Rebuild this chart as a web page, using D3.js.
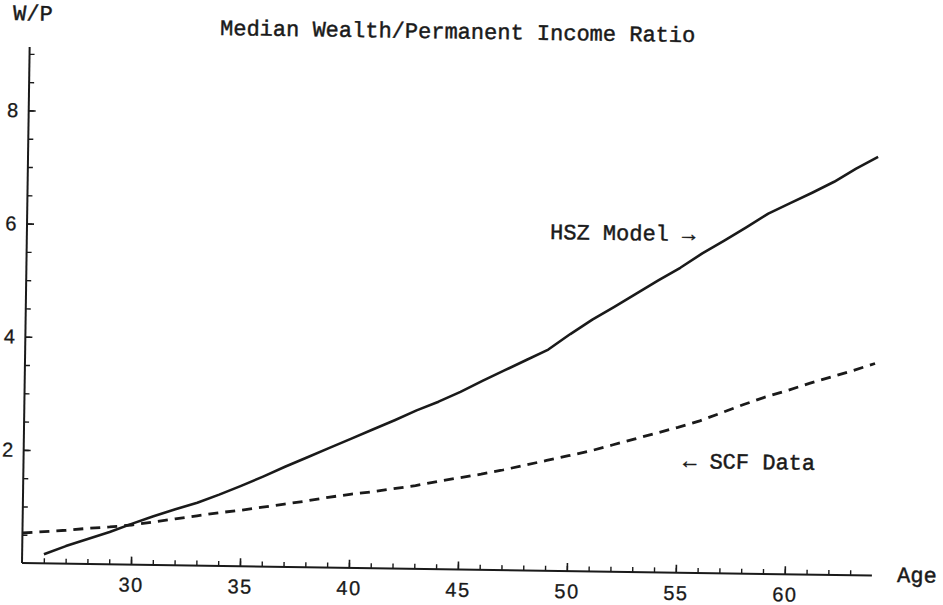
<!DOCTYPE html>
<html>
<head>
<meta charset="utf-8">
<script src="https://cdn.jsdelivr.net/npm/d3@7"></script>
<style>
  body { margin: 0; background: #fff; }
  .mono { font-family: "Liberation Mono", "Courier New", monospace; font-size: 22px; fill: #1a1a1a; stroke: #1a1a1a; stroke-width: 0.45px; }
  .tick text { font-family: "Liberation Sans", Arial, sans-serif; font-size: 20px; letter-spacing: 1.5px; fill: #1a1a1a; stroke: #1a1a1a; stroke-width: 0.3px; }
</style>
</head>
<body>
<svg id="chart" width="943" height="605"></svg>
<script>
// HSZ model, median W/P by age
var hszAges = [26,27,28,29,30,31,32,33,34,35,36,37,38,39,40,41,42,43,44,45,
               46,47,48,49,50,51,52,53,54,55,56,57,58,59,60,61,62,63,64];
var hszValues = [0.16,0.31,0.44,0.57,0.72,0.86,0.99,1.11,1.26,1.42,1.59,1.77,1.94,2.11,2.28,2.45,2.62,2.80,2.96,3.14,
                 3.34,3.53,3.72,3.91,4.19,4.45,4.68,4.92,5.16,5.39,5.65,5.88,6.12,6.37,6.56,6.75,6.95,7.19,7.40];

// SCF data
var scfAges = [25,26,27,28,29,30,31,32,33,34,35,36,37,38,39,40,41,42,43,44,45,
               46,47,48,49,50,51,52,53,54,55,56,57,58,59,60,61,62,63,64];
var scfValues = [0.53,0.56,0.59,0.63,0.66,0.70,0.76,0.82,0.88,0.94,0.99,1.05,1.11,1.17,1.24,1.30,1.35,1.41,1.47,1.55,1.62,
                 1.69,1.77,1.86,1.95,2.04,2.13,2.24,2.35,2.46,2.57,2.69,2.84,2.99,3.13,3.25,3.38,3.50,3.62,3.75];

var xTickLabels = [30,35,40,45,50,55,60];
var yTickLabels = [2,4,6,8];

var svg = d3.select("#chart");
var tilt = 0.85; // the scanned original sits slightly rotated

var x = d3.scaleLinear().domain([25, 64]).range([0, 850]);
var y = d3.scaleLinear().domain([0, 9.12]).range([0, -516]);

var g = svg.append("g")
  .attr("transform", "translate(22,563) rotate(" + tilt + ")");

function tidy(w) {
  return function(s) {
    s.select(".domain").remove();
    s.selectAll(".tick line").attr("stroke", "#1a1a1a").attr("stroke-width", w);
  };
}

// x axis: minor every year, major every 5
g.append("g")
  .call(d3.axisBottom(x).tickValues(d3.range(26, 64)).tickSize(-5).tickFormat(""))
  .call(tidy(1.4));
g.append("g")
  .call(d3.axisBottom(x).tickValues(xTickLabels).tickSize(-8).tickPadding(13))
  .call(tidy(1.6));

// y axis: minor every 0.5, major labelled
g.append("g")
  .call(d3.axisLeft(y).tickValues(d3.range(0.5, 9.1, 0.5)).tickSize(-5).tickFormat(""))
  .call(tidy(1.4));
g.append("g")
  .call(d3.axisLeft(y).tickValues(yTickLabels).tickSize(-7).tickPadding(9))
  .call(tidy(1.6));

g.append("line").attr("x1", 0).attr("x2", x(64)).attr("y1", 0).attr("y2", 0)
  .attr("stroke", "#1a1a1a").attr("stroke-width", 2);
g.append("line").attr("x1", 0).attr("x2", 0).attr("y1", 0).attr("y2", y(9.12))
  .attr("stroke", "#1a1a1a").attr("stroke-width", 2);

var line = d3.line()
  .x(function(d){ return x(d[0]); })
  .y(function(d){ return y(d[1]); });

g.append("path")
  .datum(d3.zip(scfAges, scfValues))
  .attr("d", line)
  .attr("fill", "none")
  .attr("stroke", "#1a1a1a")
  .attr("stroke-width", 2.8)
  .attr("stroke-dasharray", "10,7");

g.append("path")
  .datum(d3.zip(hszAges, hszValues))
  .attr("d", line)
  .attr("fill", "none")
  .attr("stroke", "#1a1a1a")
  .attr("stroke-width", 2.6)
  .attr("stroke-linejoin", "round");

// labels
function label(txt, px, py) {
  svg.append("text").attr("class", "mono")
    .attr("x", px).attr("y", py)
    .attr("transform", "rotate(" + tilt + "," + px + "," + py + ")")
    .text(txt);
}
label("W/P", 13, 20);
label("Median Wealth/Permanent Income Ratio", 220, 35);
label("HSZ Model \u2192", 550, 239);
label("\u2190 SCF Data", 683, 468);
label("Age", 897, 582);
</script>
</body>
</html>
